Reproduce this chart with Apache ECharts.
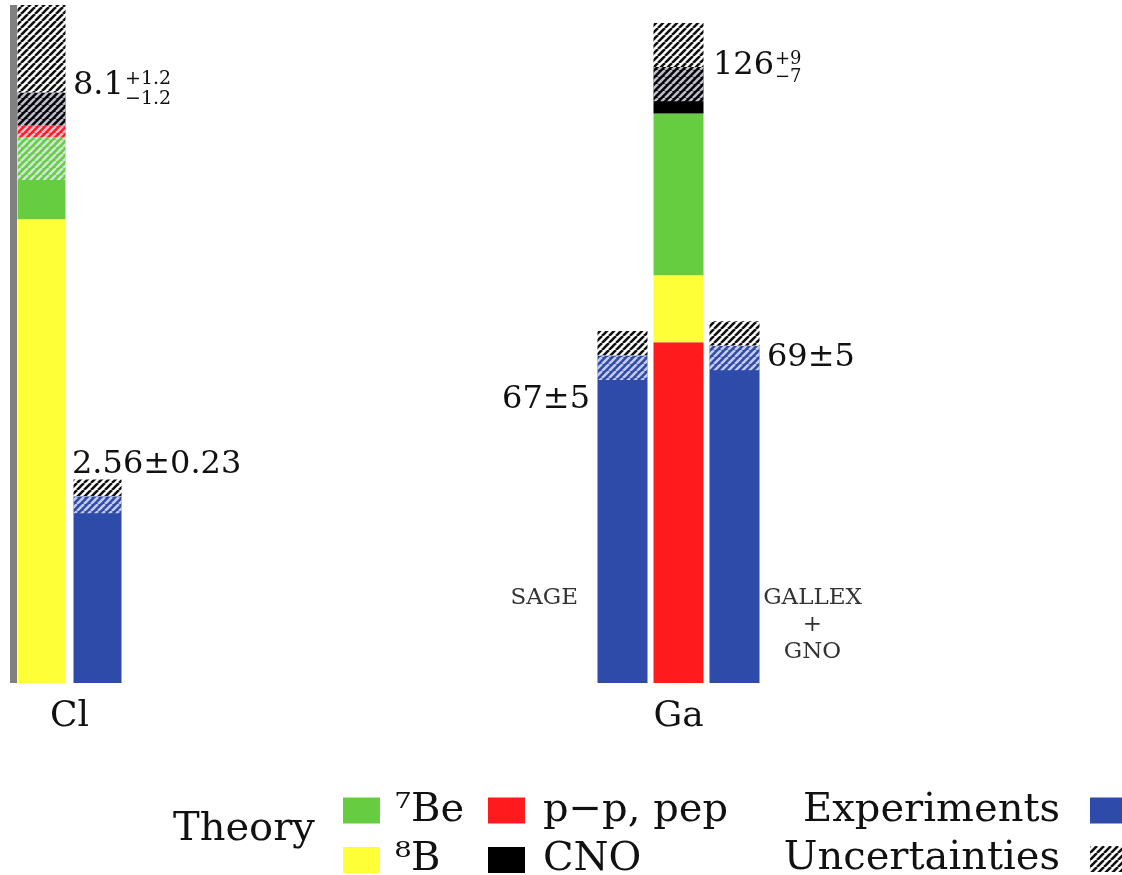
<!DOCTYPE html>
<html>
<head>
<meta charset="utf-8">
<script src="https://cdn.jsdelivr.net/npm/echarts@6/dist/echarts.min.js"></script>
<style>
  html, body { margin: 0; padding: 0; background: #ffffff; }
  #chart { width: 1122px; height: 875px; }
</style>
</head>
<body>
<div id="chart"></div>
<script>
// Solar neutrino capture rates in SNU: standard solar model contributions vs. measured rates

const detectors = ['Cl', 'Ga'];

// Flux components, listed from the bottom of each theory column upwards
const clFluxes = ['⁸B', '⁷Be', 'p−p, pep', 'CNO'];
const clTheoryParts = [6.36, 1.13, 0.16, 0.45];
const clTheory = { total: 8.1, plus: 1.2, minus: 1.2 };
const clExp = { value: 2.56, err: 0.23 };

const gaFluxes = ['p−p, pep', '⁸B', '⁷Be', 'CNO'];
const gaTheoryParts = [69.7, 13.7, 33.1, 9.5];
const gaTheory = { total: 126, plus: 9, minus: 7 };
const sage = { label: 'SAGE', value: 67, err: 5 };
const gallex = { label: 'GALLEX\n+\nGNO', value: 69, err: 5 };

const fluxColors = {
  '⁸B': '#ffff38',
  '⁷Be': '#66cc40',
  'p−p, pep': '#ff1a1e',
  'CNO': '#000000'
};
const expColor = '#2f4ba9';

// Diagonal hatching used for the uncertainty bands
function stripeTile(bg, fg) {
  const s = 7;
  const c = document.createElement('canvas');
  c.width = s; c.height = s;
  const g = c.getContext('2d');
  if (bg) { g.fillStyle = bg; g.fillRect(0, 0, s, s); }
  g.strokeStyle = fg;
  g.lineWidth = 2.6;
  g.beginPath();
  for (const x0 of [-s, 0, s]) {
    g.moveTo(x0, s);
    g.lineTo(x0 + s, 0);
  }
  g.stroke();
  return { image: c, repeat: 'repeat' };
}
const hatchOpen = stripeTile('#ffffff', '#111111');           // above the central value
const hatchOver = stripeTile(null, 'rgba(235,235,255,0.8)');  // over the coloured bar below it
const clear = 'rgba(0,0,0,0)';

const serif = 'DejaVu Serif';
const numFont = { fontFamily: serif, fontSize: 32, color: '#111' };
const supFont = { fontFamily: serif, fontSize: 19, lineHeight: 20, color: '#111' };
const nameFont = { fontFamily: serif, fontSize: 23, lineHeight: 27, color: '#333' };

const W = 48, W2 = 50;

function bar(name, stack, xi, yi, value, color, width, gap, label) {
  const s = {
    type: 'bar', name: name, stack: stack,
    xAxisIndex: xi, yAxisIndex: yi,
    barWidth: width, barGap: gap,
    data: [value],
    itemStyle: { color: color },
    emphasis: { disabled: true },
    silent: true
  };
  if (label) s.label = Object.assign({ show: true }, label);
  return s;
}

const series = [];

// --- Chlorine panel ---
clFluxes.forEach((f, i) => {
  series.push(bar(f, 'clTh', 0, 0, clTheoryParts[i], fluxColors[f], W, '16.7%'));
});
series.push(bar('Uncertainties', 'clTh', 0, 0, clTheory.plus, hatchOpen, W, '16.7%', Object.assign({
  formatter: clTheory.total.toFixed(1), position: [55.5, 81], align: 'left', verticalAlign: 'middle'
}, numFont)));
series.push(bar('Experiments', 'clEx', 0, 0, clExp.value, expColor, W, '16.7%'));
series.push(bar('Uncertainties', 'clEx', 0, 0, clExp.err, hatchOpen, W, '16.7%', Object.assign({
  formatter: clExp.value.toFixed(2) + '±' + clExp.err.toFixed(2),
  position: [-1.5, -15], align: 'left', verticalAlign: 'middle'
}, numFont)));
// hatching laid over the lower half of each band
series.push(bar('', 'clTh2', 1, 0, clTheory.total - clTheory.minus, clear, W, '16.7%'));
series.push(bar('Uncertainties', 'clTh2', 1, 0, clTheory.minus, hatchOver, W, '16.7%', Object.assign({
  formatter: '+' + clTheory.plus.toFixed(1) + '\n−' + clTheory.minus.toFixed(1),
  position: [107.5, -3], align: 'left', verticalAlign: 'middle'
}, supFont)));
series.push(bar('', 'clEx2', 1, 0, clExp.value - clExp.err, clear, W, '16.7%'));
series.push(bar('Uncertainties', 'clEx2', 1, 0, clExp.err, hatchOver, W, '16.7%'));

// --- Gallium panel ---
series.push(bar('Experiments', 'sage', 2, 1, sage.value, expColor, W2, '12%', Object.assign({
  formatter: sage.label, position: [-19.5, 242.5], align: 'right', verticalAlign: 'middle'
}, nameFont)));
series.push(bar('Uncertainties', 'sage', 2, 1, sage.err, hatchOpen, W2, '12%', Object.assign({
  formatter: sage.value + '±' + sage.err, position: [-7.5, 69], align: 'right', verticalAlign: 'middle'
}, numFont)));
gaFluxes.forEach((f, i) => {
  series.push(bar(f, 'gaTh', 2, 1, gaTheoryParts[i], fluxColors[f], W2, '12%'));
});
series.push(bar('Uncertainties', 'gaTh', 2, 1, gaTheory.plus, hatchOpen, W2, '12%', Object.assign({
  formatter: String(gaTheory.total), position: [59.5, 43], align: 'left', verticalAlign: 'middle'
}, numFont)));
series.push(bar('Experiments', 'gallex', 2, 1, gallex.value, expColor, W2, '12%', Object.assign({
  formatter: gallex.label, position: [103, 279.3], align: 'center', verticalAlign: 'middle'
}, nameFont)));
series.push(bar('Uncertainties', 'gallex', 2, 1, gallex.err, hatchOpen, W2, '12%', Object.assign({
  formatter: gallex.value + '±' + gallex.err, position: [57.5, 36.7], align: 'left', verticalAlign: 'middle'
}, numFont)));

series.push(bar('', 'sage2', 3, 1, sage.value - sage.err, clear, W2, '12%'));
series.push(bar('Uncertainties', 'sage2', 3, 1, sage.err, hatchOver, W2, '12%'));
series.push(bar('', 'gaTh2', 3, 1, gaTheory.total - gaTheory.minus, clear, W2, '12%'));
series.push(bar('Uncertainties', 'gaTh2', 3, 1, gaTheory.minus, hatchOver, W2, '12%', Object.assign({
  formatter: '+' + gaTheory.plus + '\n−' + gaTheory.minus,
  position: [121.5, 1], align: 'left', verticalAlign: 'middle'
}, supFont, { fontSize: 18, lineHeight: 18 })));
series.push(bar('', 'gallex2', 3, 1, gallex.value - gallex.err, clear, W2, '12%'));
series.push(bar('Uncertainties', 'gallex2', 3, 1, gallex.err, hatchOver, W2, '12%'));

const hiddenAxis = { show: false };
const catLabel = { fontFamily: serif, fontSize: 36, color: '#111', margin: 16 };

// One legend box per key entry, laid out in two rows
const legendText = { fontFamily: serif, fontSize: 40, lineHeight: 36, color: '#111' };
function key(name, pos, textPad, align) {
  return Object.assign({
    data: [name], orient: 'horizontal', icon: 'rect',
    itemWidth: 37, itemHeight: 26, padding: 0, selectedMode: false,
    align: align || 'left',
    textStyle: Object.assign({}, legendText, { padding: textPad })
  }, pos);
}
const row1 = 790.5, row2 = 840;

const option = {
  animation: false,
  backgroundColor: '#ffffff',
  grid: [
    { left: 13.5, top: 5, width: 112, height: 678 },
    { left: 578.5, top: 5, width: 200, height: 678 }
  ],
  xAxis: [
    { type: 'category', gridIndex: 0, data: [detectors[0]], axisLine: hiddenAxis, axisTick: hiddenAxis, axisLabel: catLabel },
    { type: 'category', gridIndex: 0, data: [detectors[0]], show: false },
    { type: 'category', gridIndex: 1, data: [detectors[1]], axisLine: hiddenAxis, axisTick: hiddenAxis, axisLabel: catLabel },
    { type: 'category', gridIndex: 1, data: [detectors[1]], show: false }
  ],
  yAxis: [
    { type: 'value', gridIndex: 0, min: 0, max: 9.3,
      axisLine: { show: true, lineStyle: { color: '#808080', width: 7, cap: 'butt' } },
      axisTick: hiddenAxis, axisLabel: hiddenAxis, splitLine: hiddenAxis },
    { type: 'value', gridIndex: 1, min: 0, max: 138.7, show: false, splitLine: hiddenAxis }
  ],
  legend: [
    key('⁷Be', { left: 343, top: row1 }, [0, 0, 0, 10]),
    key('⁸B', { left: 343, top: row2 }, [0, 0, 0, 10]),
    key('p−p, pep', { left: 488, top: row1 }, [0, 0, 0, 13]),
    key('CNO', { left: 488, top: row2 }, [0, 0, 0, 13]),
    key('Experiments', { right: -5, top: row1 }, [0, 25, 0, 0], 'right'),
    key('Uncertainties', { right: -5, top: row2 - 1 }, [0, 25, 0, 0], 'right')
  ],
  graphic: [
    { type: 'text', left: 173, top: 810,
      style: { text: 'Theory', font: '40px "DejaVu Serif"', fill: '#111' } }
  ],
  series: series
};

const chart = echarts.init(document.getElementById('chart'), null, { renderer: 'canvas' });
chart.setOption(option);
</script>
</body>
</html>
